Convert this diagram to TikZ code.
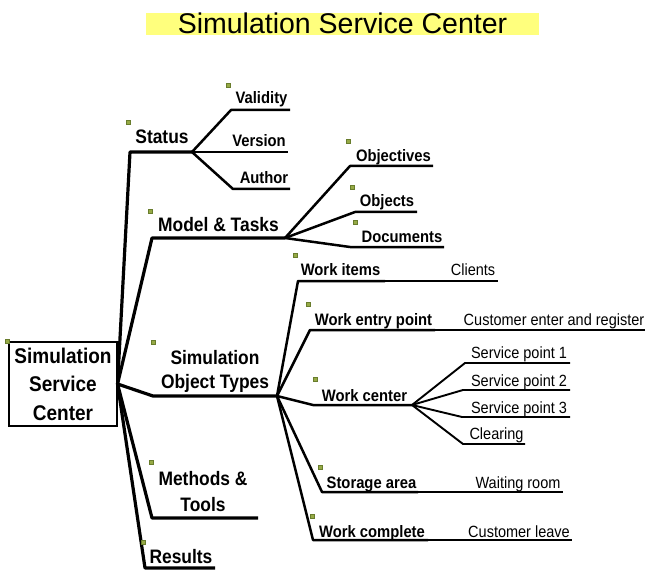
\documentclass[tikz,border=0pt]{standalone}
\usepackage{fontspec}
\setmainfont{Liberation Sans}
\definecolor{titleyellow}{RGB}{255,255,125}
\definecolor{bulletgreen}{RGB}{150,170,70}
\definecolor{bulletedge}{RGB}{105,125,45}
% labels in the map are set slightly taller than the font's natural shape
\newcommand{\vstretch}[1]{\scalebox{1}[1.12]{#1}}
\begin{document}
\begin{tikzpicture}[x=1pt,y=-1pt,
  trunk/.style={line width=3.2pt, line join=round},
  twig/.style={line width=2.5pt, line join=round},
  leaf/.style={line width=1.9pt, line join=round},
  hair/.style={line width=1.3pt},
  mainlbl/.style={font=\fontsize{17.4}{24}\selectfont\bfseries, inner sep=0pt, anchor=base, align=center},
  sublbl/.style={font=\fontsize{14.8}{18}\selectfont\bfseries, inner sep=0pt, anchor=base},
  leaflbl/.style={font=\fontsize{14.5}{18}\selectfont, inner sep=0pt, anchor=base},
  bullet/.style={fill=bulletgreen, draw=bulletedge, line width=0.4pt, minimum size=4.4pt, inner sep=0pt},
]
\useasboundingbox (0,0) rectangle (645,572);

% title bar
\node[fill=titleyellow, minimum width=393pt, text height=21pt, text depth=1pt, inner sep=0pt,
      anchor=base, font=\fontsize{28.5}{30}\selectfont] (title) at (342.5,34) {Simulation Service Center};

% central topic
\node[draw, line width=1.1pt, minimum width=108pt, minimum height=84pt, inner sep=0pt, align=center,
      font=\fontsize{19}{28.5}\selectfont\bfseries] (root) at (63,384)
      {\vstretch{Simulation}\\\vstretch{Service}\\\vstretch{Center}};

% branch geometry
\coordinate (stBend) at (130,152);  \coordinate (stHub) at (192,152);
\coordinate (mtBend) at (152,238);  \coordinate (mtHub) at (285,238);
\coordinate (soBend) at (153,396);  \coordinate (soHub) at (277,396);
\coordinate (meBend) at (152,518);  \coordinate (meEnd) at (258,518);
\coordinate (reBend) at (145,568);  \coordinate (reEnd) at (215,568);

\coordinate (vaBend) at (231,110);  \coordinate (vaEnd) at (290,110);
\coordinate (veEnd) at (288,152);
\coordinate (auBend) at (233,189);  \coordinate (auEnd) at (290,189);

\coordinate (obBend) at (350,166);  \coordinate (obEnd) at (433,166);
\coordinate (ojBend) at (355,212);  \coordinate (ojEnd) at (417,212);
\coordinate (doBend) at (350,247);  \coordinate (doEnd) at (444,247);

\coordinate (wiBend) at (298,281);  \coordinate (wiMid) at (385,281);  \coordinate (wiEnd) at (498,281);
\coordinate (weBend) at (310,330);  \coordinate (weMid) at (435,330);  \coordinate (weEnd) at (645,330);
\coordinate (wcBend) at (313,405);  \coordinate (wcHub) at (412,405);
\coordinate (saBend) at (322,492);  \coordinate (saMid) at (418,492);  \coordinate (saEnd) at (563,492);
\coordinate (cpBend) at (313,540);  \coordinate (cpMid) at (428,540);  \coordinate (cpEnd) at (572,540);

\coordinate (s1Bend) at (465,363);  \coordinate (s1End) at (570,363);
\coordinate (s2Bend) at (463,390);  \coordinate (s2End) at (570,390);
\coordinate (s3Bend) at (462,417);  \coordinate (s3End) at (570,417);
\coordinate (clBend) at (463,444);  \coordinate (clEnd) at (525,444);

% main branches
\draw[trunk] (root.east) -- (stBend) -- (stHub);
\draw[trunk] (root.east) -- (mtBend) -- (mtHub);
\draw[trunk] (root.east) -- (soBend) -- (soHub);
\draw[trunk] (root.east) -- (meBend) -- (meEnd);
\draw[trunk] (root.east) -- (reBend) -- (reEnd);

% Status
\draw[twig] (stHub) -- (vaBend) -- (vaEnd);
\draw[twig] (stHub) -- (veEnd);
\draw[twig] (stHub) -- (auBend) -- (auEnd);

% Model & Tasks
\draw[twig] (mtHub) -- (obBend) -- (obEnd);
\draw[twig] (mtHub) -- (ojBend) -- (ojEnd);
\draw[twig] (mtHub) -- (doBend) -- (doEnd);

% Simulation Object Types
\draw[twig] (soHub) -- (wiBend) -- (wiMid);  \draw[hair] (wiMid) -- (wiEnd);
\draw[twig] (soHub) -- (weBend) -- (weMid);  \draw[hair] (weMid) -- (weEnd);
\draw[twig] (soHub) -- (wcBend) -- (wcHub);
\draw[twig] (soHub) -- (saBend) -- (saMid);  \draw[hair] (saMid) -- (saEnd);
\draw[twig] (soHub) -- (cpBend) -- (cpMid);  \draw[hair] (cpMid) -- (cpEnd);

% Work center
\draw[leaf] (wcHub) -- (s1Bend) -- (s1End);
\draw[leaf] (wcHub) -- (s2Bend) -- (s2End);
\draw[leaf] (wcHub) -- (s3Bend) -- (s3End);
\draw[leaf] (wcHub) -- (clBend) -- (clEnd);

% labels (base anchor of a two-line label is its last line)
\node[mainlbl] (status) at (162,144) {\vstretch{Status}};
\node[mainlbl] (model) at (218.5,232) {\vstretch{Model \& Tasks}};
\node[mainlbl] (sot) at (215,388) {\vstretch{Simulation}\\\vstretch{Object Types}};
\node[mainlbl, font=\fontsize{17.4}{26}\selectfont\bfseries] (methods) at (203,511) {\vstretch{Methods \&}\\\vstretch{Tools}};
\node[mainlbl] (results) at (181,563) {\vstretch{Results}};

\node[sublbl] (validity) at (261.5,104) {\vstretch{Validity}};
\node[sublbl] (version) at (259,147) {\vstretch{Version}};
\node[sublbl] (author) at (264,184) {\vstretch{Author}};

\node[sublbl] (objectives) at (393.5,162) {\vstretch{Objectives}};
\node[sublbl] (objects) at (387,207) {\vstretch{Objects}};
\node[sublbl] (documents) at (402,243) {\vstretch{Documents}};

\node[sublbl] (workitems) at (340.5,275) {\vstretch{Work items}};
\node[leaflbl] (clients) at (473,275) {\vstretch{Clients}};
\node[sublbl] (workentry) at (373.5,325) {\vstretch{Work entry point}};
\node[leaflbl] (custenter) at (554,325) {\vstretch{Customer enter and register}};
\node[sublbl] (workcenter) at (364.5,401) {\vstretch{Work center}};
\node[leaflbl] (sp1) at (519,358) {\vstretch{Service point 1}};
\node[leaflbl] (sp2) at (519,386) {\vstretch{Service point 2}};
\node[leaflbl] (sp3) at (519,413) {\vstretch{Service point 3}};
\node[leaflbl] (clearing) at (496.5,439) {\vstretch{Clearing}};
\node[sublbl] (storage) at (371.5,488) {\vstretch{Storage area}};
\node[leaflbl] (waiting) at (518,488) {\vstretch{Waiting room}};
\node[sublbl] (complete) at (372,537) {\vstretch{Work complete}};
\node[leaflbl] (custleave) at (519,537) {\vstretch{Customer leave}};

% topic markers
\node[bullet] (bRoot) at (7,341) {};
\node[bullet] (bStatus) at (128,122) {};
\node[bullet] (bValidity) at (228,85) {};
\node[bullet] (bModel) at (150,211) {};
\node[bullet] (bObjectives) at (348,141) {};
\node[bullet] (bObjects) at (352,187) {};
\node[bullet] (bDocuments) at (355,222) {};
\node[bullet] (bWorkItems) at (295,255) {};
\node[bullet] (bSot) at (153,342) {};
\node[bullet] (bWorkEntry) at (308,304) {};
\node[bullet] (bWorkCenter) at (315,379) {};
\node[bullet] (bStorage) at (320,467) {};
\node[bullet] (bComplete) at (312,516) {};
\node[bullet] (bMethods) at (151,462) {};
\node[bullet] (bResults) at (143,542) {};
\end{tikzpicture}
\end{document}
